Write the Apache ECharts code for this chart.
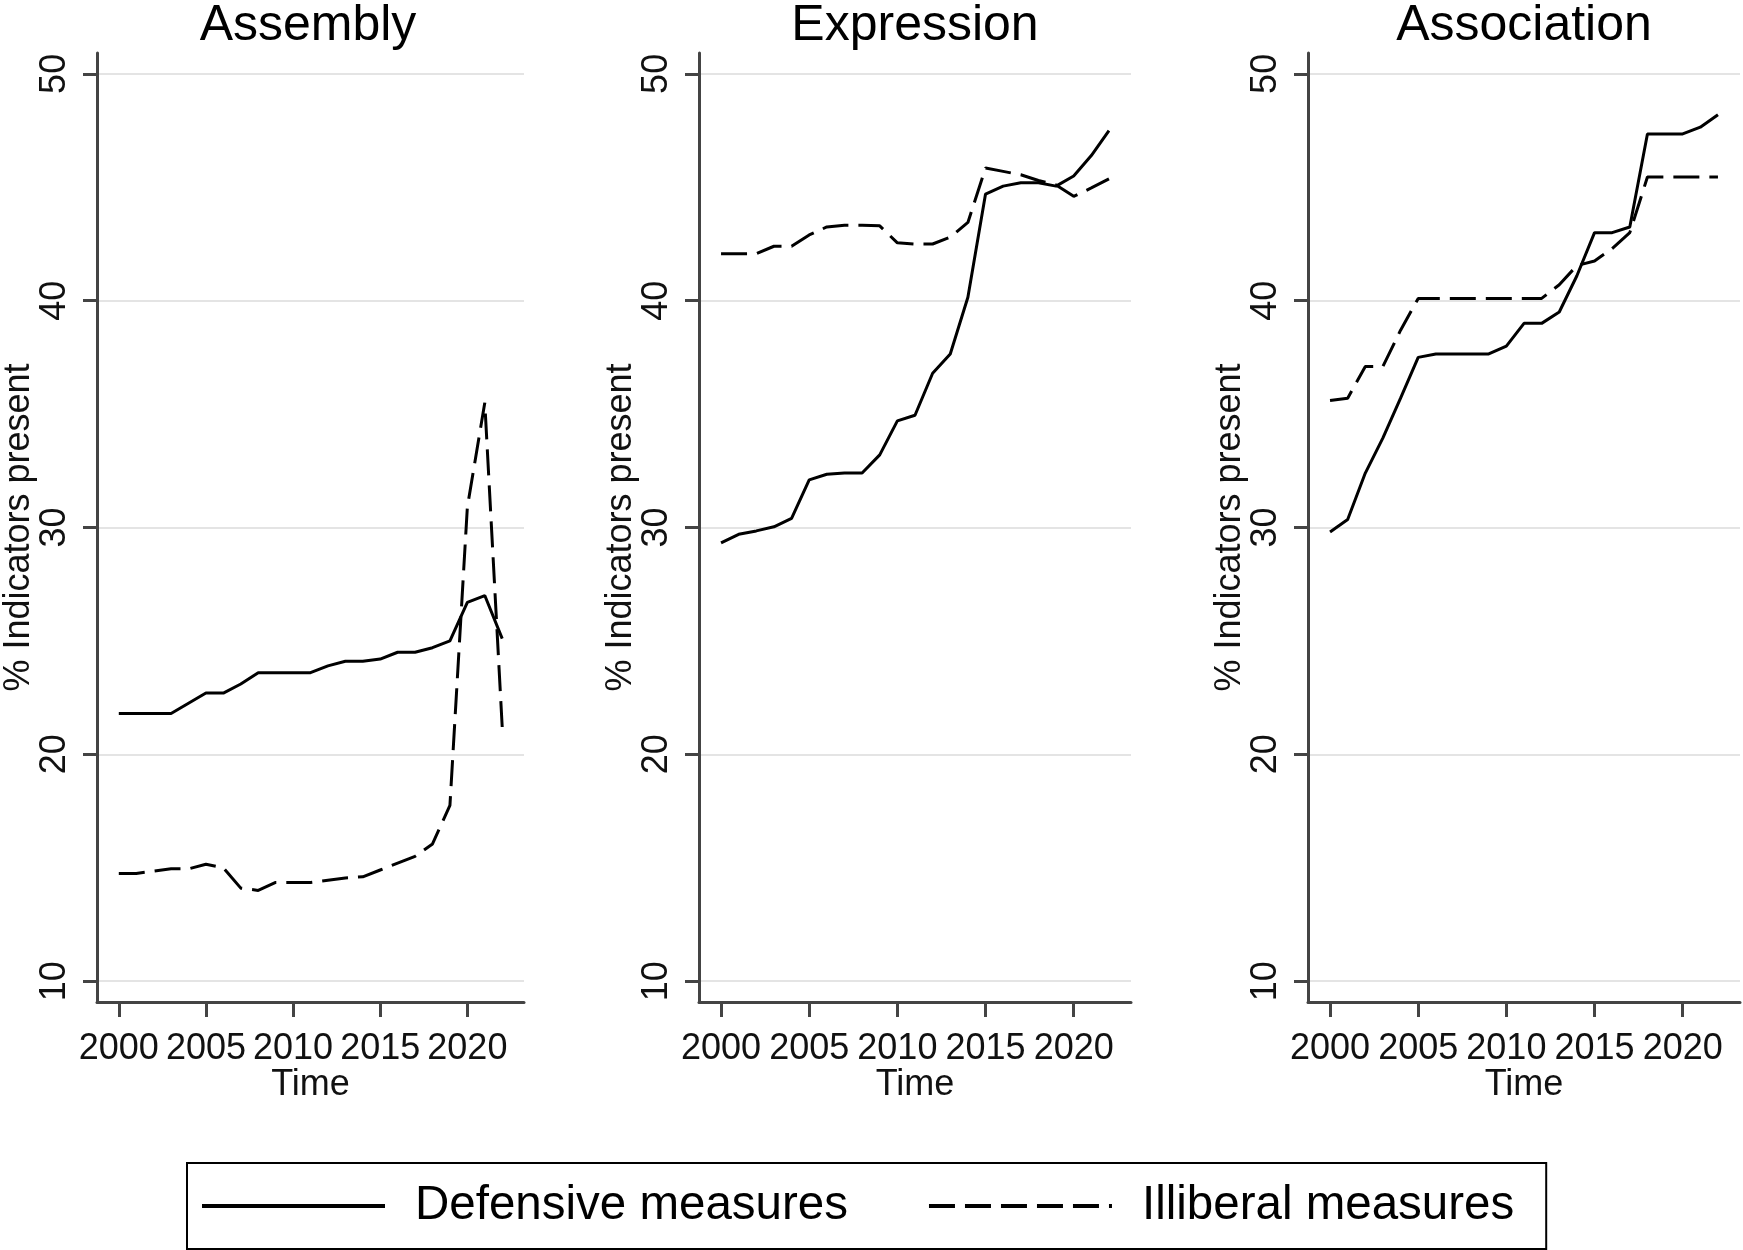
<!DOCTYPE html>
<html>
<head>
<meta charset="utf-8">
<title>Indicators present</title>
<script src="https://cdn.jsdelivr.net/npm/echarts@6/dist/echarts.min.js"></script>
<style>
  html,body{margin:0;padding:0;background:#fff;}
  #main{width:1743px;height:1250px;}
</style>
</head>
<body>
<div id="main"></div>
<script>
/*数据*/
const years = [2000,2001,2002,2003,2004,2005,2006,2007,2008,2009,2010,2011,2012,2013,2014,2015,2016,2017,2018,2019,2020,2021,2022];
const xTicks = [2000,2005,2010,2015,2020];
const yTicks = [10,20,30,40,50];
const panelTitles = ["Assembly","Expression","Association"];
const seriesNames = ["Defensive measures","Illiberal measures"];

const assemblyDefensive = [21.8,21.8,21.8,21.8,22.25,22.7,22.7,23.1,23.6,23.6,23.6,23.6,23.9,24.1,24.1,24.2,24.5,24.5,24.7,25.0,26.7,27.0,25.1];
const assemblyIlliberal = [14.75,14.75,14.85,14.95,14.95,15.15,15.0,14.1,14.0,14.35,14.35,14.35,14.45,14.55,14.6,14.9,15.2,15.5,16.05,17.75,30.9,35.5,21.2];

const expressionDefensive = [29.32,29.7,29.85,30.03,30.4,32.1,32.35,32.4,32.4,33.2,34.7,34.95,36.8,37.65,40.15,44.7,45.05,45.2,45.2,45.05,45.5,46.4,47.5];
const expressionIlliberal = [42.07,42.07,42.07,42.4,42.4,42.9,43.25,43.33,43.33,43.3,42.55,42.5,42.5,42.8,43.45,45.85,45.7,45.55,45.3,45.1,44.6,44.97,45.37];

const associationDefensive = [29.8,30.35,32.4,33.95,35.7,37.5,37.65,37.65,37.65,37.65,38.0,39.0,39.0,39.5,41.1,43.0,43.0,43.25,47.35,47.35,47.35,47.65,48.2];
const associationIlliberal = [35.6,35.7,37.1,37.1,38.7,40.1,40.1,40.1,40.1,40.1,40.1,40.1,40.1,40.7,41.55,41.75,42.3,43.0,45.45,45.45,45.45,45.45,45.45];

const panels = [
	[assemblyDefensive,assemblyIlliberal],
	[expressionDefensive,expressionIlliberal],
	[associationDefensive,associationIlliberal],
];

/*布局*/
const FONT = "'Liberation Sans', Arial, Helvetica, sans-serif";
const gridLefts = [92,699,1308];
const gridW = 432, gridTop = 53, gridH = 949;
const axisColor = "#444";

const pairs = arr => arr.map((v,i)=>[years[i],v]);

const grid = gridLefts.map(left=>({left,top:gridTop,width:gridW,height:gridH}));

const xAxis = gridLefts.map((l,i)=>({
	gridIndex:i, type:"value", min:1998.75, max:2023.25,
	axisLine:{onZero:false,lineStyle:{color:axisColor,width:3}},
	axisTick:{customValues:xTicks,length:15,lineStyle:{color:axisColor,width:3}},
	axisLabel:{customValues:xTicks,formatter:v=>String(v),hideOverlap:false,
		fontSize:36,fontFamily:FONT,color:"#111",margin:29},
	splitLine:{show:false},
	name:"Time", nameLocation:"middle", nameGap:65, nameMoveOverlap:false,
	nameTextStyle:{fontSize:36,fontFamily:FONT,color:"#111"},
}));

const yAxis = gridLefts.map((l,i)=>({
	gridIndex:i, type:"value", min:9.08, max:50.92,
	axisLine:{show:true,lineStyle:{color:axisColor,width:3}},
	axisTick:{show:true,customValues:yTicks,length:14,lineStyle:{color:axisColor,width:3}},
	axisLabel:{customValues:yTicks,rotate:90,fontSize:36,fontFamily:FONT,color:"#111",margin:24},
	splitLine:{show:true,lineStyle:{color:"#e4e4e4",width:2}},
	name:"% Indicators present", nameLocation:"middle", nameRotate:90, nameGap:60, nameMoveOverlap:false,
	nameTextStyle:{fontSize:36,fontFamily:FONT,color:"#111"},
}));

const series = [];
panels.forEach((pair,i)=>{
	pair.forEach((vals,k)=>{
		series.push({
			name:seriesNames[k], type:"line", xAxisIndex:i, yAxisIndex:i,
			data:pairs(vals), symbol:"none", showSymbol:false,
			lineStyle:{color:"#000",width:3,type:k ? [26,10] : "solid"},
			itemStyle:{color:"#000"},
		});
	});
});

const titles = gridLefts.map((left,i)=>({
	type:"text", x:left+gridW/2, y:1,
	style:{text:panelTitles[i],font:`50px ${FONT}`,fill:"#000",textAlign:"center",textVerticalAlign:"top"},
}));

const chart = echarts.init(document.getElementById("main"));
chart.setOption({
	animation:false,
	backgroundColor:"#fff",
	grid, xAxis, yAxis, series,
	graphic:titles,
	legend:{
		left:187, top:1163,
		data:seriesNames,
		itemWidth:183, itemHeight:46, itemGap:79,
		padding:[19,32,19,13],
		borderColor:"#000", borderWidth:2,
		itemStyle:{opacity:0},
		lineStyle:{width:4},
		textStyle:{fontSize:47.5,fontFamily:FONT,color:"#000",padding:[0,0,0,25]},
	},
});
</script>
</body>
</html>
